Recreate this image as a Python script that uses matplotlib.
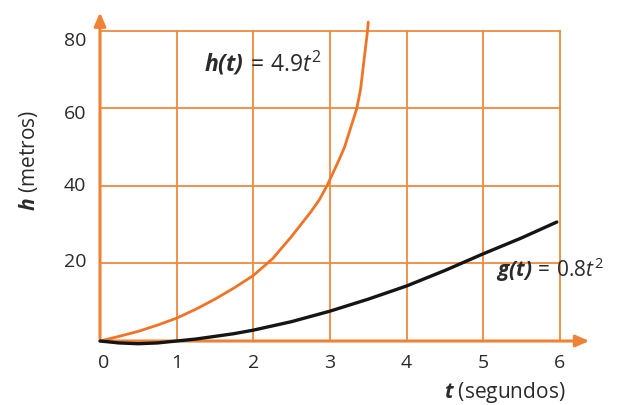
import matplotlib
matplotlib.use("Agg")
import matplotlib.pyplot as plt

plt.rcParams['font.family'] = ['Open Sans', 'DejaVu Sans']
plt.rcParams['mathtext.fontset'] = 'custom'
plt.rcParams['mathtext.rm'] = 'Open Sans'
plt.rcParams['mathtext.it'] = 'Open Sans:italic'
plt.rcParams['mathtext.bf'] = 'Open Sans:italic:bold'

# Data
t_h = [0, 0.25, 0.5, 0.75, 1.0, 1.25, 1.5, 1.75, 2.0, 2.25, 2.5, 2.75, 2.86, 2.96,
       3.05, 3.12, 3.19, 3.27, 3.35, 3.40, 3.43, 3.46, 3.49, 3.50]
h_vals = [0, 1.2, 2.5, 4.1, 5.9, 8.2, 10.8, 13.7, 16.9, 21.2, 27.0, 33.3, 36.4, 40,
          43.8, 46.8, 50, 55, 60, 65, 70, 75, 80, 82.3]
t_g = [0, 0.25, 0.5, 0.75, 1.0, 1.25, 1.5, 1.75, 2.0, 2.5, 3.0, 3.5, 4.0, 4.5, 5.0, 5.5, 5.96]
g_vals = [0, -0.5, -0.7, -0.5, 0, 0.5, 1.2, 1.9, 2.8, 5.0, 7.7, 10.8, 14.2, 18.2, 22.5, 26.6, 30.7]
x_ticks = [0, 1, 2, 3, 4, 5, 6]
y_ticks = [20, 40, 60, 80]

ORANGE = '#EE8236'
GRID = '#EF8A3E'
TXT = '#2a2a2a'

fig = plt.figure(figsize=(6.2, 4.06), dpi=100)
ax = fig.add_axes([0.1242, 0.1099, 0.853, 0.8877])
ax.set_xlim(-0.3, 6.6)
ax.set_ylim(-5, 88)
for s in ax.spines.values():
    s.set_visible(False)
ax.set_xticks([])
ax.set_yticks([])

# grid
for x in x_ticks[1:]:
    ax.plot([x, x], [0, 80], color=GRID, lw=1.3, zorder=1)
for y in y_ticks:
    ax.plot([0, 6], [y, y], color=GRID, lw=1.3, zorder=1)

# axes with arrows
ax.annotate('', xy=(6.42, 0), xytext=(0, 0),
            arrowprops=dict(arrowstyle='-|>,head_length=0.8,head_width=0.35', color=ORANGE, lw=2.2), zorder=2)
ax.annotate('', xy=(0, 85.5), xytext=(0, 0),
            arrowprops=dict(arrowstyle='-|>,head_length=0.8,head_width=0.35', color=ORANGE, lw=2.2), zorder=2)

# curves
ax.plot(t_h, h_vals, color='#F07426', lw=2.0, zorder=3, solid_capstyle='round', solid_joinstyle='round')
ax.plot(t_g, g_vals, color='#151515', lw=2.4, zorder=3, solid_capstyle='round', solid_joinstyle='round')

# tick labels
for x in x_ticks:
    ax.text(x + (0.05 if x == 0 else 0), -5.3, str(x), ha='center', va='center',
            fontsize=14, color=TXT)
y_label_shift = {80: -2.4, 60: -1.2, 40: 0.2, 20: 0.6}
for y in y_ticks:
    ax.text(-0.18, y + y_label_shift[y], str(y), ha='right', va='center', fontsize=14, color=TXT)

# axis labels
ax.text(5.28, -13.0, r'$\mathbf{t}$ (segundos)', ha='center', va='center',
        fontsize=15, color=TXT, clip_on=False)
fig.text(0.046, 0.605, r'$\mathbf{h}$ (metros)', ha='center', va='center',
         rotation=90, fontsize=15, color=TXT)

# curve labels
ax.text(1.36, 72.0, r'$\mathbf{h(t)}\,\mathrm{=}\,\mathrm{4.9}\mathit{t}^{\mathrm{2}}$', ha='left', va='center',
        fontsize=16.5, color=TXT)
ax.text(5.17, 18.6, r'$\mathbf{g(t)}\,\mathrm{=}\,\mathrm{0.8}\mathit{t}^{\mathrm{2}}$', ha='left', va='center',
        fontsize=15, color=TXT)

fig.savefig('out.png', dpi=100)
